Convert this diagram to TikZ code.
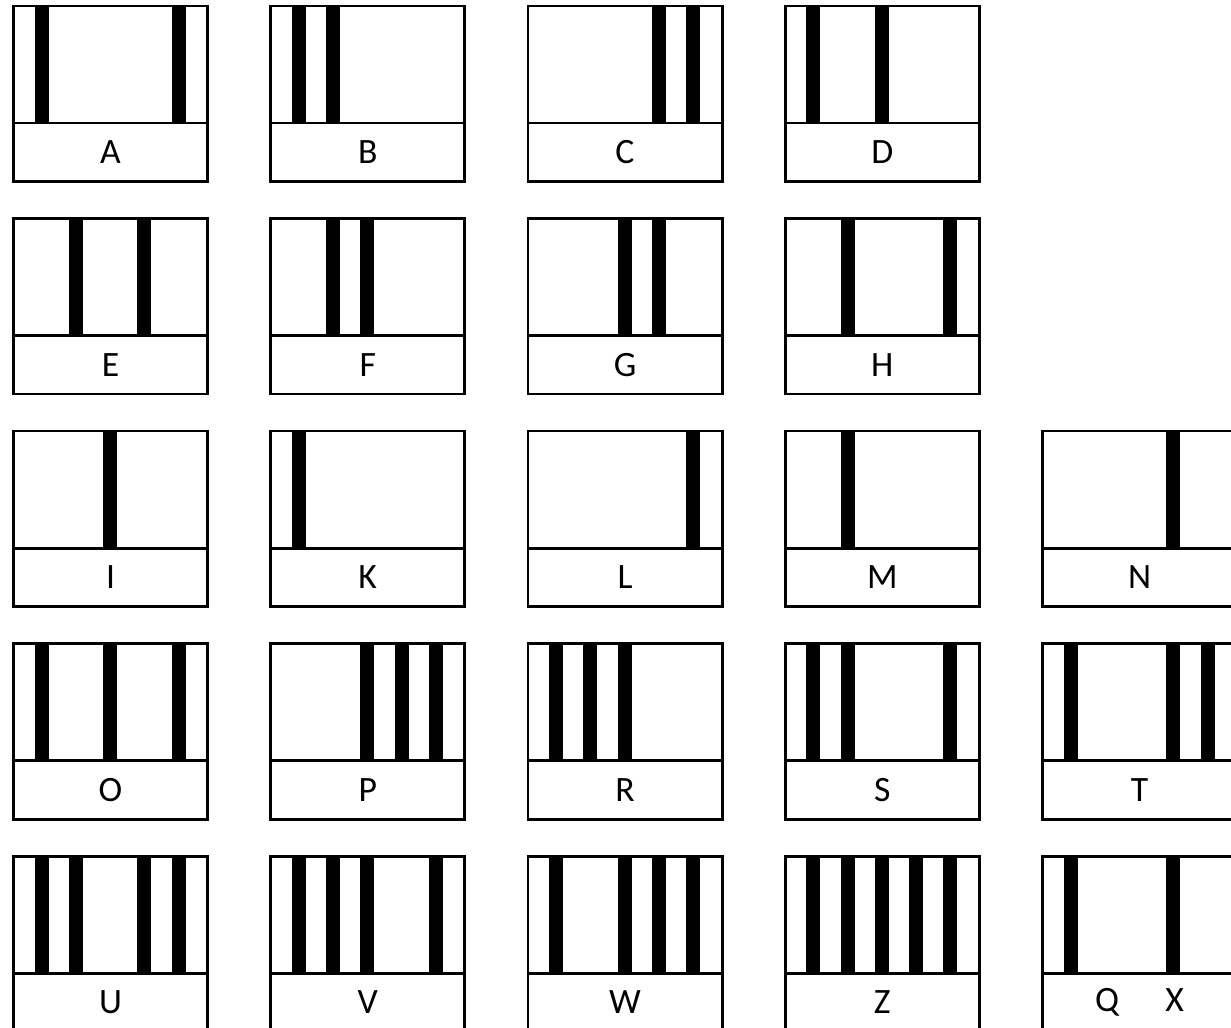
\documentclass[tikz,border=0pt]{standalone}
\usepackage{fontspec}
\setmainfont{Carlito}

\begin{document}
\begin{tikzpicture}[
    x=0.02cm, y=-0.02cm,
    every node/.style={font=\fontsize{20.3pt}{24pt}\selectfont},
    frame/.style={line width=1.7pt},
    bar/.style={fill=black},
  ]
    \def\W{194}                 % 卡片宽度（像素）
    \def\H{175.5}               % 卡片高度
    \def\D{117}                 % 分隔线距顶部
    \def\bw{14}                 % 竖条宽度
    \def\gap{34.25}             % 竖条间距

    % 画布范围（右列与末行被裁切）
    \useasboundingbox (0,0) rectangle (1231,1028);
    \clip (0,0) rectangle (1231,1028);

    % 各卡片：列/行/名称/标签/竖条位置
    \foreach \c/\r/\name/\txt/\slots in {
        0/0/A/A/{1,5}, 1/0/B/B/{1,2}, 2/0/C/C/{4,5}, 3/0/D/D/{1,3},
        0/1/E/E/{2,4}, 1/1/F/F/{2,3}, 2/1/G/G/{3,4}, 3/1/H/H/{2,5},
        0/2/I/I/{3}, 1/2/K/K/{1}, 2/2/L/L/{5}, 3/2/M/M/{2}, 4/2/N/N/{4},
        0/3/O/O/{1,3,5}, 1/3/P/P/{3,4,5}, 2/3/R/R/{1,2,3}, 3/3/S/S/{1,2,5}, 4/3/T/T/{1,4,5},
        0/4/U/U/{1,2,4,5}, 1/4/V/V/{1,2,3,5}, 2/4/W/W/{1,3,4,5}, 3/4/Z/Z/{1,2,3,4,5},
        4/4/QX/{Q\hspace{1.3em}X}/{1,4}} {
      \pgfmathsetmacro{\xl}{13.5+257.25*\c}
      \pgfmathsetmacro{\yt}{6+212.5*\r}

      % 竖条
      \foreach \s in \slots {
        \pgfmathsetmacro{\xc}{\xl+28+\gap*(\s-1)}
        \fill[bar] ({\xc-\bw/2}, \yt) rectangle ({\xc+\bw/2}, {\yt+\D});
      }

      % 外框与分隔线
      \draw[frame] (\xl, \yt) rectangle ({\xl+\W}, {\yt+\H});
      \draw[frame] (\xl, {\yt+\D}) -- ({\xl+\W}, {\yt+\D});

      % 标签
      \node (lab-\name) at ({\xl+\W/2}, {\yt+(\D+\H)/2}) {\txt};
    }
\end{tikzpicture}
\end{document}
